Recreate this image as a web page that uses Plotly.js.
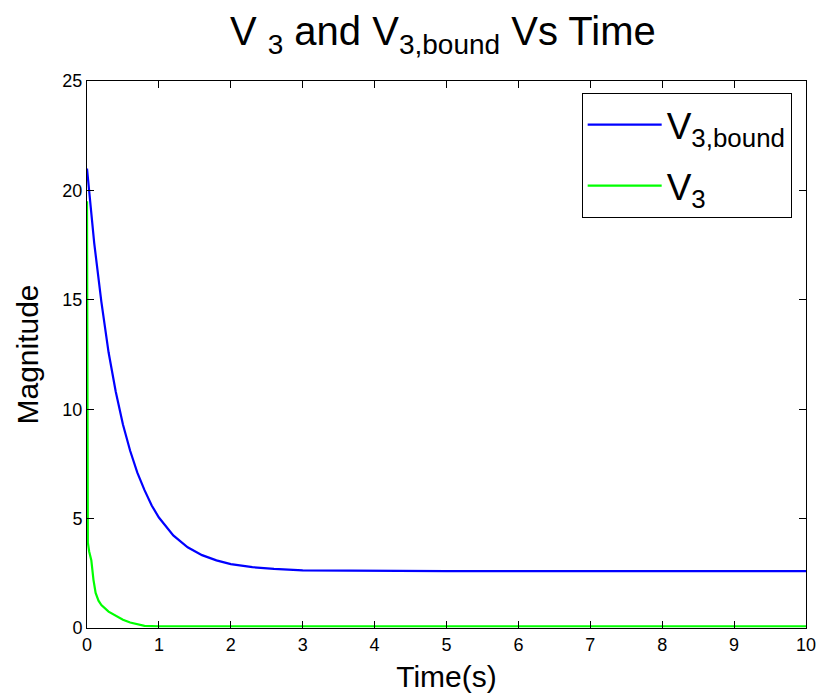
<!DOCTYPE html>
<html>
<head>
<meta charset="utf-8">
<script src="https://cdn.plot.ly/plotly-3.0.1.min.js"></script>
<style>html,body{margin:0;padding:0;background:#fff;}#chart{width:820px;height:699px;}</style>
</head>
<body>
<div id="chart"></div>
<script>
// Time samples (s) and values
const tBound = [0, 0.1, 0.2, 0.3, 0.4, 0.5, 0.6, 0.7, 0.8, 0.9, 1.0, 1.2, 1.4, 1.6, 1.8, 2.0, 2.3, 2.6, 3.0, 4, 5, 6, 7, 8, 9, 10];
const vBound = [21.0, 17.6, 14.9, 12.6, 10.8, 9.3, 8.1, 7.1, 6.3, 5.6, 5.05, 4.23, 3.69, 3.33, 3.09, 2.92, 2.78, 2.70, 2.63, 2.6, 2.6, 2.6, 2.6, 2.6, 2.6, 2.6];

const tV3 = [0, 0.003, 0.006, 0.012, 0.03, 0.06, 0.09, 0.12, 0.16, 0.2, 0.3, 0.4, 0.5, 0.6, 0.7, 0.8, 1, 2, 3, 4, 5, 6, 7, 8, 9, 10];
const vV3 = [19.5, 6.7, 4.8, 3.9, 3.5, 3.1, 2.2, 1.6, 1.25, 1.05, 0.75, 0.55, 0.38, 0.25, 0.16, 0.1, 0.08, 0.08, 0.08, 0.08, 0.08, 0.08, 0.08, 0.08, 0.08, 0.08];

const xTicks = [0, 1, 2, 3, 4, 5, 6, 7, 8, 9, 10];
const yTicks = [0, 5, 10, 15, 20, 25];

const FONT = 'Arial, Liberation Sans, sans-serif';

const traces = [
  {x: tBound, y: vBound, mode: 'lines', name: 'V<sub>3,bound</sub>', legendgroup: 'a', line: {color: '#0000ff', width: 2.2}},
  {x: tV3, y: vV3, mode: 'lines', name: 'V<sub>3</sub>', legendgroup: 'b', line: {color: '#00ff00', width: 2.2}}
];

const axisCommon = {
  showline: true, linecolor: '#000', linewidth: 1, mirror: 'ticks',
  ticks: 'inside', ticklen: 7, tickcolor: '#000', tickwidth: 1,
  showgrid: false, zeroline: false,
  tickfont: {family: FONT, size: 18, color: '#000'}
};

const layout = {
  width: 820, height: 699,
  margin: {l: 87, r: 14, t: 81, b: 71},
  paper_bgcolor: '#fff', plot_bgcolor: '#fff',
  title: {text: 'V <sub>3</sub> and V<sub>3,bound</sub> Vs Time', x: 0.54, xanchor: 'center', y: 0.955, yanchor: 'middle',
          font: {family: FONT, size: 40, color: '#000'}},
  xaxis: Object.assign({}, axisCommon, {range: [0, 10], tickvals: xTicks, ticktext: xTicks.map(String),
          title: {text: 'Time(s)', standoff: 12, font: {family: FONT, size: 30, color: '#000'}}}),
  yaxis: Object.assign({}, axisCommon, {range: [0, 25], tickvals: yTicks, ticktext: yTicks.map(String),
          title: {text: 'Magnitude', standoff: 14, font: {family: FONT, size: 30, color: '#000'}}}),
  showlegend: true,
  legend: {x: 0.688, y: 0.978, xanchor: 'left', yanchor: 'top', bgcolor: '#fff', bordercolor: '#000', borderwidth: 1,
           itemwidth: 74, tracegroupgap: 10, traceorder: 'grouped',
           font: {family: FONT, size: 37, color: '#000'}}
};

Plotly.newPlot('chart', traces, layout, {displayModeBar: false, staticPlot: true});
</script>
</body>
</html>
